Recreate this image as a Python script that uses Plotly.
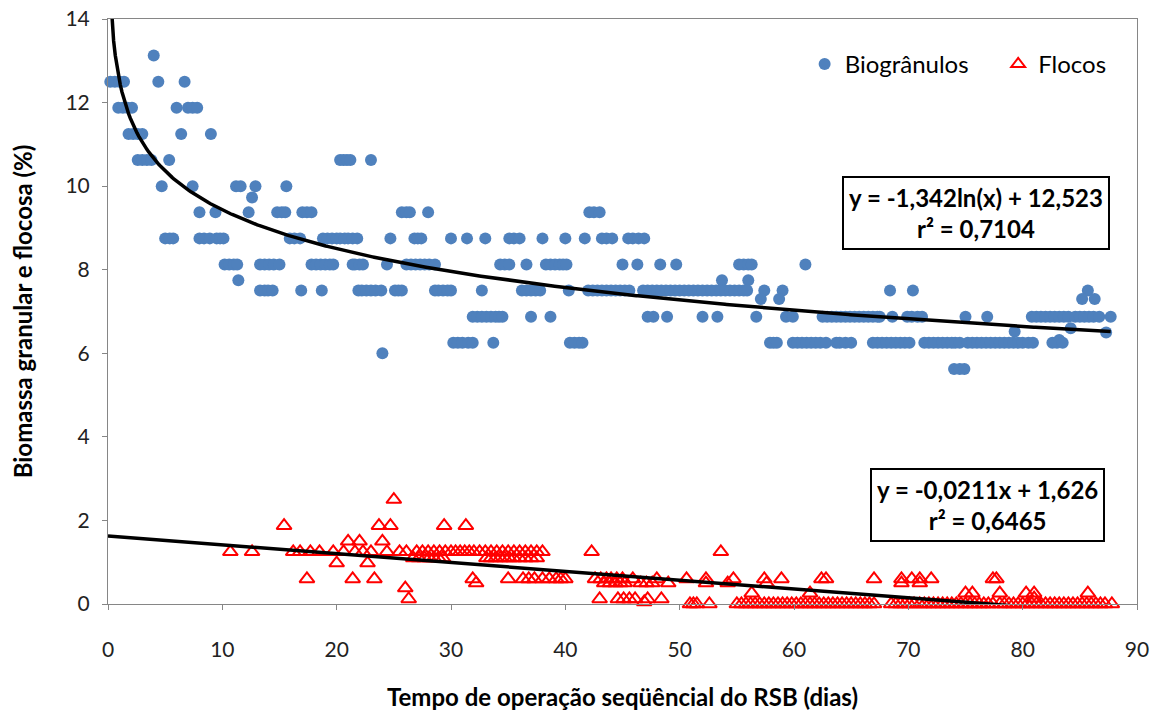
import numpy as np
import plotly.graph_objects as go

# --- Biogrânulos (granular biomass, %) vs. operation day ---
bio_dias = [
    4.0,
    0.2, 0.6, 1.0, 1.4, 4.4, 6.7,
    0.9, 1.3, 1.7, 2.1, 6.0, 7.0, 7.4, 7.8,
    1.8, 2.2, 2.6, 3.0, 6.4, 9.0,
    2.6, 3.0, 3.4, 3.8, 5.35, 20.3, 20.6, 20.9, 21.2, 23.0,
    4.7, 7.4, 11.2, 11.6, 12.9, 15.6,
    12.6,
    8.0, 9.4, 12.3, 14.8, 15.2, 15.5, 17.0, 17.4, 17.8, 25.7, 26.1, 26.4, 28.0, 42.1, 42.5, 43.0,
    5.0, 5.4, 5.7, 8.0, 8.4, 8.9, 9.5, 9.8, 10.1, 15.9, 16.3, 16.8, 18.8, 19.2, 19.6, 20.0,
    20.3, 20.7, 21.0, 21.4, 21.8, 24.7, 26.8, 27.1, 27.4, 30.0, 31.4, 33.0, 35.1, 35.5, 36.0,
    38.0, 40.0, 41.7, 43.2, 43.6, 44.1, 45.5, 45.9, 46.4, 46.9,
    10.2, 10.6, 11.0, 11.3, 13.3, 13.7, 14.1, 14.5, 15.0, 17.8, 18.2, 18.6, 19.0, 19.4, 19.7,
    21.4, 21.6, 22.0, 22.3, 24.4, 26.1, 26.5, 26.9, 27.3, 27.7, 28.1, 28.6, 34.3, 34.7, 35.1,
    36.6, 38.3, 38.7, 39.1, 39.5, 39.8, 40.1, 45.0, 46.3, 48.3, 49.7, 55.2, 55.6, 56.0, 56.3, 61.0,
    11.4, 53.7, 56.0,
    13.3, 13.7, 14.0, 14.4, 16.9, 18.7, 21.9, 22.2, 22.6, 23.0, 23.4, 23.9, 25.1, 25.4, 25.7,
    28.6, 28.9, 29.3, 29.7, 30.0, 32.7, 36.2, 36.6, 37.0, 37.4, 37.8, 40.3,
    42.0, 42.4, 42.8, 43.2, 43.6, 44.0, 44.4, 44.8, 45.2, 45.6, 46.8, 47.2, 47.6, 48.0, 48.4,
    48.8, 49.2, 49.6, 50.0, 50.4, 50.8, 51.2, 51.6, 52.0, 52.4, 52.8, 53.2, 53.6, 54.0, 54.4,
    54.8, 55.2, 55.6, 55.9, 57.4, 59.0, 68.4, 70.4, 85.7,
    57.1, 58.7, 85.2, 86.3,
    31.9, 32.3, 32.7, 33.1, 33.5, 33.9, 34.2, 34.5, 37.0, 38.7, 47.2, 47.7, 48.9, 52.0, 53.3,
    56.7, 59.3, 59.9, 62.5, 62.9, 63.3, 63.7, 64.1, 64.5, 64.9, 65.3, 65.7, 66.1, 66.5, 66.9,
    67.3, 67.5, 68.6, 69.9, 70.3, 70.8, 71.2, 75.0, 76.9, 80.8, 81.2, 81.6, 82.0, 82.4, 82.8,
    83.2, 83.6, 84.0, 84.6, 85.0, 85.4, 85.8, 86.2, 86.7, 87.7,
    79.3, 84.2, 87.3, 83.2,
    30.2, 30.6, 31.0, 31.5, 31.9, 33.7, 40.4, 40.8, 41.2, 41.5, 57.9, 58.2, 58.5, 59.9, 60.3,
    60.7, 61.1, 61.5, 61.9, 62.3, 62.8, 63.7, 64.0, 64.5, 65.0, 66.9, 67.3, 67.7, 68.1, 68.5,
    68.9, 69.3, 69.7, 70.1, 71.4, 71.8, 72.2, 72.6, 73.0, 73.4, 73.8, 74.1, 74.5, 75.2, 75.6,
    76.0, 76.4, 76.8, 77.2, 77.6, 78.0, 78.4, 78.8, 79.2, 79.6, 80.0, 80.5, 80.9, 82.6, 83.0, 83.5,
    24.0,
    74.0, 74.5, 74.9,
]
bio_pct = [
    13.125,
    12.5, 12.5, 12.5, 12.5, 12.5, 12.5,
    11.875, 11.875, 11.875, 11.875, 11.875, 11.875, 11.875, 11.875,
    11.25, 11.25, 11.25, 11.25, 11.25, 11.25,
    10.625, 10.625, 10.625, 10.625, 10.625, 10.625, 10.625, 10.625, 10.625, 10.625,
    10.0, 10.0, 10.0, 10.0, 10.0, 10.0,
    9.73,
    9.375, 9.375, 9.375, 9.375, 9.375, 9.375, 9.375, 9.375, 9.375, 9.375, 9.375, 9.375, 9.375, 9.375, 9.375, 9.375,
    8.75, 8.75, 8.75, 8.75, 8.75, 8.75, 8.75, 8.75, 8.75, 8.75, 8.75, 8.75, 8.75, 8.75, 8.75, 8.75,
    8.75, 8.75, 8.75, 8.75, 8.75, 8.75, 8.75, 8.75, 8.75, 8.75, 8.75, 8.75, 8.75, 8.75, 8.75,
    8.75, 8.75, 8.75, 8.75, 8.75, 8.75, 8.75, 8.75, 8.75, 8.75,
    8.125, 8.125, 8.125, 8.125, 8.125, 8.125, 8.125, 8.125, 8.125, 8.125, 8.125, 8.125, 8.125, 8.125, 8.125,
    8.125, 8.125, 8.125, 8.125, 8.125, 8.125, 8.125, 8.125, 8.125, 8.125, 8.125, 8.125, 8.125, 8.125, 8.125,
    8.125, 8.125, 8.125, 8.125, 8.125, 8.125, 8.125, 8.125, 8.125, 8.125, 8.125, 8.125, 8.125, 8.125, 8.125, 8.125,
    7.75, 7.75, 7.75,
    7.5, 7.5, 7.5, 7.5, 7.5, 7.5, 7.5, 7.5, 7.5, 7.5, 7.5, 7.5, 7.5, 7.5, 7.5,
    7.5, 7.5, 7.5, 7.5, 7.5, 7.5, 7.5, 7.5, 7.5, 7.5, 7.5, 7.5,
    7.5, 7.5, 7.5, 7.5, 7.5, 7.5, 7.5, 7.5, 7.5, 7.5, 7.5, 7.5, 7.5, 7.5, 7.5,
    7.5, 7.5, 7.5, 7.5, 7.5, 7.5, 7.5, 7.5, 7.5, 7.5, 7.5, 7.5, 7.5, 7.5, 7.5,
    7.5, 7.5, 7.5, 7.5, 7.5, 7.5, 7.5, 7.5, 7.5,
    7.3, 7.3, 7.3, 7.3,
    6.875, 6.875, 6.875, 6.875, 6.875, 6.875, 6.875, 6.875, 6.875, 6.875, 6.875, 6.875, 6.875, 6.875, 6.875,
    6.875, 6.875, 6.875, 6.875, 6.875, 6.875, 6.875, 6.875, 6.875, 6.875, 6.875, 6.875, 6.875, 6.875, 6.875,
    6.875, 6.875, 6.875, 6.875, 6.875, 6.875, 6.875, 6.875, 6.875, 6.875, 6.875, 6.875, 6.875, 6.875, 6.875,
    6.875, 6.875, 6.875, 6.875, 6.875, 6.875, 6.875, 6.875, 6.875, 6.875,
    6.52, 6.6, 6.5, 6.32,
    6.25, 6.25, 6.25, 6.25, 6.25, 6.25, 6.25, 6.25, 6.25, 6.25, 6.25, 6.25, 6.25, 6.25, 6.25,
    6.25, 6.25, 6.25, 6.25, 6.25, 6.25, 6.25, 6.25, 6.25, 6.25, 6.25, 6.25, 6.25, 6.25, 6.25,
    6.25, 6.25, 6.25, 6.25, 6.25, 6.25, 6.25, 6.25, 6.25, 6.25, 6.25, 6.25, 6.25, 6.25, 6.25,
    6.25, 6.25, 6.25, 6.25, 6.25, 6.25, 6.25, 6.25, 6.25, 6.25, 6.25, 6.25, 6.25, 6.25, 6.25, 6.25,
    6.0,
    5.625, 5.625, 5.625,
]

# --- Flocos (floc biomass, %) vs. operation day ---
flo_dias = [
    25.0,
    15.4, 23.7, 24.7, 29.4, 31.3,
    21.0, 22.0, 24.0,
    10.7, 12.6, 16.2, 16.8, 17.7, 18.5, 19.7, 20.6, 21.6, 22.3, 23.0, 24.4, 25.5, 26.1,
    27.0, 27.5, 28.0, 28.5, 29.0, 29.5, 30.0, 30.4, 30.8, 31.2, 31.6, 32.0, 32.5, 33.0,
    33.5, 34.0, 34.5, 35.0, 35.5, 36.0, 36.5, 37.0, 37.5, 38.0, 42.3, 53.6,
    26.7, 27.2, 27.7, 28.1, 28.5, 28.9, 29.3, 33.1, 33.5, 33.9, 34.3, 34.7, 35.1, 35.5, 36.0, 36.5, 37.0, 37.5,
    20.0, 22.7,
    17.4, 21.4, 23.3, 31.9, 35.0, 36.3, 36.8, 37.3, 38.0, 38.6, 39.2, 39.6, 40.0, 42.6, 43.1,
    43.6, 44.0, 44.5, 45.0, 45.9, 48.0, 50.6, 52.3, 54.7, 57.4, 58.9, 62.4, 62.8, 67.0, 69.4,
    70.3, 71.0, 72.0, 77.4, 77.7,
    32.2, 43.4, 43.9, 44.4, 44.8, 45.2, 46.6, 47.1, 47.6, 49.0, 52.3, 54.2, 57.6, 69.4, 71.0,
    26.0, 56.3, 61.4, 75.0, 75.6, 78.0, 80.3, 81.0, 85.7,
    26.3, 43.0, 44.6, 45.1, 45.6, 46.1, 47.2, 48.4, 81.0,
    46.9,
    50.9, 51.2, 51.5, 52.6, 55.0, 55.4, 55.8, 56.2, 56.6, 57.0, 57.4, 57.8, 58.2, 58.6, 59.0,
    59.4, 59.8, 60.2, 60.6, 61.0, 61.4, 61.8, 62.2, 62.6, 63.0, 63.4, 63.8, 64.2, 64.6, 65.0,
    65.4, 65.8, 66.2, 66.6, 67.0, 68.5, 68.9, 69.3, 69.7, 70.1, 70.5, 71.0, 71.4, 71.8, 72.2,
    72.6, 73.0, 73.4, 73.8, 74.2, 74.6, 75.0, 75.4, 75.8, 76.2, 76.6, 77.0, 77.4, 78.0, 78.4,
    78.8, 79.2, 79.6, 80.0, 80.4, 80.8, 81.2, 81.6, 82.0, 82.4, 82.8, 83.2, 83.6, 84.0, 84.4,
    84.8, 85.2, 85.6, 86.0, 86.4, 86.8, 87.2, 87.8,
]
flo_pct = [
    2.5,
    1.875, 1.875, 1.875, 1.875, 1.875,
    1.5, 1.5, 1.5,
    1.25, 1.25, 1.25, 1.25, 1.25, 1.25, 1.25, 1.25, 1.25, 1.25, 1.25, 1.25, 1.25, 1.25,
    1.25, 1.25, 1.25, 1.25, 1.25, 1.25, 1.25, 1.25, 1.25, 1.25, 1.25, 1.25, 1.25, 1.25,
    1.25, 1.25, 1.25, 1.25, 1.25, 1.25, 1.25, 1.25, 1.25, 1.25, 1.25, 1.25,
    1.1, 1.1, 1.1, 1.1, 1.1, 1.1, 1.1, 1.1, 1.1, 1.1, 1.1, 1.1, 1.1, 1.1, 1.1, 1.1, 1.1, 1.1,
    0.98, 0.98,
    0.6, 0.6, 0.6, 0.6, 0.6, 0.6, 0.6, 0.6, 0.6, 0.6, 0.6, 0.6, 0.6, 0.6, 0.6,
    0.6, 0.6, 0.6, 0.6, 0.6, 0.6, 0.6, 0.6, 0.6, 0.6, 0.6, 0.6, 0.6, 0.6, 0.6,
    0.6, 0.6, 0.6, 0.6, 0.6,
    0.5, 0.5, 0.5, 0.5, 0.5, 0.5, 0.5, 0.5, 0.5, 0.5, 0.5, 0.5, 0.5, 0.5, 0.5,
    0.38, 0.26, 0.26, 0.26, 0.26, 0.26, 0.26, 0.26, 0.26,
    0.12, 0.12, 0.12, 0.12, 0.12, 0.12, 0.12, 0.12, 0.14,
    0.05,
    0.0, 0.0, 0.0, 0.0, 0.0, 0.0, 0.0, 0.0, 0.0, 0.0, 0.0, 0.0, 0.0, 0.0, 0.0,
    0.0, 0.0, 0.0, 0.0, 0.0, 0.0, 0.0, 0.0, 0.0, 0.0, 0.0, 0.0, 0.0, 0.0, 0.0,
    0.0, 0.0, 0.0, 0.0, 0.0, 0.0, 0.0, 0.0, 0.0, 0.0, 0.0, 0.0, 0.0, 0.0, 0.0,
    0.0, 0.0, 0.0, 0.0, 0.0, 0.0, 0.0, 0.0, 0.0, 0.0, 0.0, 0.0, 0.0, 0.0, 0.0,
    0.0, 0.0, 0.0, 0.0, 0.0, 0.0, 0.0, 0.0, 0.0, 0.0, 0.0, 0.0, 0.0, 0.0, 0.0,
    0.0, 0.0, 0.0, 0.0, 0.0, 0.0, 0.0, 0.0,
]

# Trendline coefficients as reported on the chart
log_a, log_b, log_r2 = -1.342, 12.523, 0.7104
lin_a, lin_b, lin_r2 = -0.0211, 1.626, 0.6465

x_ticks = [0, 10, 20, 30, 40, 50, 60, 70, 80, 90]
y_ticks = [0, 2, 4, 6, 8, 10, 12, 14]

BLUE = "#4F81BD"
RED = "#FF0000"
AXIS_GREY = "#868686"
FONT = "Lato, Open Sans, sans-serif"
NBSP = "\u00a0"

fig = go.Figure()

fig.add_trace(go.Scatter(
    x=bio_dias, y=bio_pct, mode="markers", name="Biogrânulos" + NBSP * 4,
    marker=dict(symbol="circle", size=12, color=BLUE),
    cliponaxis=False,
))
fig.add_trace(go.Scatter(
    x=flo_dias, y=flo_pct, mode="markers", name="Flocos",
    marker=dict(symbol="triangle-up-open", size=13, color=RED,
                line=dict(width=2, color=RED)),
    cliponaxis=False,
))

# Logarithmic trend for the granules, linear trend for the flocs
x_log = np.linspace(0.2, max(bio_dias), 600)
fig.add_trace(go.Scatter(
    x=x_log, y=log_a * np.log(x_log) + log_b, mode="lines",
    line=dict(color="black", width=3.5), showlegend=False, hoverinfo="skip",
))
x_lin = np.array([0.0, max(flo_dias)])
fig.add_trace(go.Scatter(
    x=x_lin, y=lin_a * x_lin + lin_b, mode="lines",
    line=dict(color="black", width=3.5), showlegend=False, hoverinfo="skip",
))

axis_common = dict(
    showgrid=False, zeroline=False, showline=True, linecolor=AXIS_GREY,
    linewidth=1, mirror=True, ticks="outside", tickcolor=AXIS_GREY,
    ticklen=5, automargin=False,
    tickfont=dict(family=FONT, size=21, color="#222222"),
)

fig.update_layout(
    width=1161, height=711,
    margin=dict(l=108, r=24, t=19, b=107),
    paper_bgcolor="white", plot_bgcolor="white",
    font=dict(family=FONT, color="black"),
    xaxis=dict(range=[0, 90], tickvals=x_ticks, ticklabelstandoff=22,
               title=dict(text="<b>Tempo de operação seqüêncial do RSB (dias)</b>",
                          font=dict(size=24), standoff=30),
               **axis_common),
    yaxis=dict(range=[0, 14], tickvals=y_ticks, ticklabelstandoff=8,
               title=dict(text="<b>Biomassa granular e flocosa (%)</b>",
                          font=dict(size=24), standoff=26),
               **axis_common),
    legend=dict(orientation="h", x=0.677, y=0.961, xanchor="left", yanchor="top",
                font=dict(family=FONT, size=24), bgcolor="rgba(0,0,0,0)",
                itemsizing="constant"),
    showlegend=True,
)

box_style = dict(
    xref="paper", yref="paper", showarrow=False, align="center",
    bordercolor="black", borderwidth=2, bgcolor="white", borderpad=5,
    font=dict(family=FONT, size=24, color="black"),
)
fig.add_annotation(
    x=0.844, y=0.668, xanchor="center", yanchor="middle",
    text=f"<b>y = {log_a:.3f}ln(x) + {log_b:.3f}<br>r² = {log_r2:.4f}</b>".replace(".", ","),
    **box_style,
)
fig.add_annotation(
    x=0.8547, y=0.170, xanchor="center", yanchor="middle",
    text=f"<b>y = {lin_a:.4f}x + {lin_b:.3f}<br>r² = {lin_r2:.4f}</b>".replace(".", ","),
    **box_style,
)

fig.write_html("out.html")
